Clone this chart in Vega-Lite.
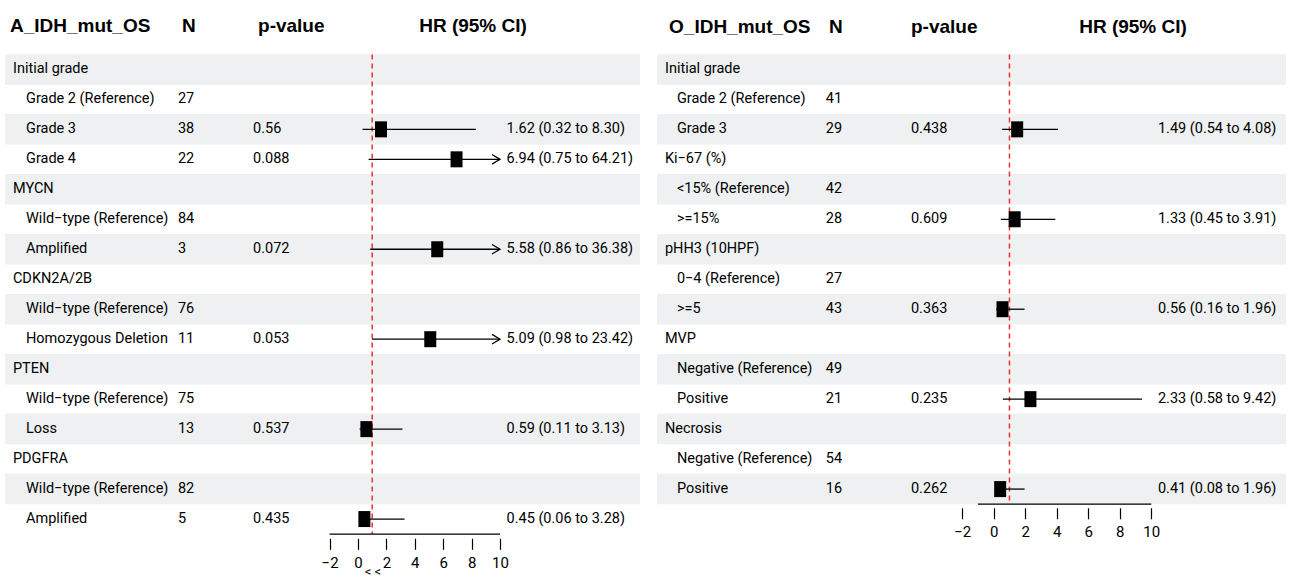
{
  "$schema": "https://vega.github.io/schema/vega-lite/v6.json",
  "width": 1292,
  "height": 585,
  "autosize": {"type": "fit", "contains": "padding"},
  "padding": 0,
  "background": "white",
  "config": {
    "view": {"stroke": null},
    "text": {"font": "Roboto", "fontSize": 14.5, "color": "black"},
    "axis": {"labelFont": "Roboto", "labelFontSize": 15, "labelColor": "black", "tickColor": "black", "tickWidth": 1.2, "tickSize": 11, "labelPadding": 6, "grid": false, "domain": false}
  },
  "datasets": {
    "left": [
      {"row": 1, "level": 0, "label": "Initial grade"},
      {"row": 2, "level": 1, "label": "Grade 2 (Reference)", "n": 27},
      {"row": 3, "level": 1, "label": "Grade 3", "n": 38, "p": "0.56", "hr": 1.62, "lo": 0.32, "hi": 8.30, "ci": "1.62 (0.32 to 8.30)"},
      {"row": 4, "level": 1, "label": "Grade 4", "n": 22, "p": "0.088", "hr": 6.94, "lo": 0.75, "hi": 64.21, "ci": "6.94 (0.75 to 64.21)"},
      {"row": 5, "level": 0, "label": "MYCN"},
      {"row": 6, "level": 1, "label": "Wild−type (Reference)", "n": 84},
      {"row": 7, "level": 1, "label": "Amplified", "n": 3, "p": "0.072", "hr": 5.58, "lo": 0.86, "hi": 36.38, "ci": "5.58 (0.86 to 36.38)"},
      {"row": 8, "level": 0, "label": "CDKN2A/2B"},
      {"row": 9, "level": 1, "label": "Wild−type (Reference)", "n": 76},
      {"row": 10, "level": 1, "label": "Homozygous Deletion", "n": 11, "p": "0.053", "hr": 5.09, "lo": 0.98, "hi": 23.42, "ci": "5.09 (0.98 to 23.42)"},
      {"row": 11, "level": 0, "label": "PTEN"},
      {"row": 12, "level": 1, "label": "Wild−type (Reference)", "n": 75},
      {"row": 13, "level": 1, "label": "Loss", "n": 13, "p": "0.537", "hr": 0.59, "lo": 0.11, "hi": 3.13, "ci": "0.59 (0.11 to 3.13)"},
      {"row": 14, "level": 0, "label": "PDGFRA"},
      {"row": 15, "level": 1, "label": "Wild−type (Reference)", "n": 82},
      {"row": 16, "level": 1, "label": "Amplified", "n": 5, "p": "0.435", "hr": 0.45, "lo": 0.06, "hi": 3.28, "ci": "0.45 (0.06 to 3.28)"}
    ],
    "right": [
      {"row": 1, "level": 0, "label": "Initial grade"},
      {"row": 2, "level": 1, "label": "Grade 2 (Reference)", "n": 41},
      {"row": 3, "level": 1, "label": "Grade 3", "n": 29, "p": "0.438", "hr": 1.49, "lo": 0.54, "hi": 4.08, "ci": "1.49 (0.54 to 4.08)"},
      {"row": 4, "level": 0, "label": "Ki−67 (%)"},
      {"row": 5, "level": 1, "label": "<15% (Reference)", "n": 42},
      {"row": 6, "level": 1, "label": ">=15%", "n": 28, "p": "0.609", "hr": 1.33, "lo": 0.45, "hi": 3.91, "ci": "1.33 (0.45 to 3.91)"},
      {"row": 7, "level": 0, "label": "pHH3 (10HPF)"},
      {"row": 8, "level": 1, "label": "0−4 (Reference)", "n": 27},
      {"row": 9, "level": 1, "label": ">=5", "n": 43, "p": "0.363", "hr": 0.56, "lo": 0.16, "hi": 1.96, "ci": "0.56 (0.16 to 1.96)"},
      {"row": 10, "level": 0, "label": "MVP"},
      {"row": 11, "level": 1, "label": "Negative (Reference)", "n": 49},
      {"row": 12, "level": 1, "label": "Positive", "n": 21, "p": "0.235", "hr": 2.33, "lo": 0.58, "hi": 9.42, "ci": "2.33 (0.58 to 9.42)"},
      {"row": 13, "level": 0, "label": "Necrosis"},
      {"row": 14, "level": 1, "label": "Negative (Reference)", "n": 54},
      {"row": 15, "level": 1, "label": "Positive", "n": 16, "p": "0.262", "hr": 0.41, "lo": 0.08, "hi": 1.96, "ci": "0.41 (0.08 to 1.96)"}
    ]
  },
  "resolve": {"scale": {"x": "independent"}, "axis": {"x": "independent"}},
  "layer": [
    {
      "data": {"name": "left"},
      "layer": [
        {
          "transform": [{"filter": "datum.row % 2 == 1"}],
          "mark": {"type": "bar", "color": "#eef0f1"},
          "encoding": {
            "x": {"datum": -24.86, "type": "quantitative", "title": null,
                  "scale": {"domain": [-25.211, 65.775], "nice": false, "zero": false},
                  "axis": {"values": [-2, 0, 2, 4, 6, 8, 10], "title": null, "orient": "bottom", "offset": -46.7}},
            "x2": {"datum": 19.86},
            "y": {"field": "row", "type": "quantitative", "axis": null,
                  "scale": {"domain": [-1.148, 18.033], "reverse": true, "nice": false, "zero": false}},
            "size": {"value": 30.5}
          }
        },
        {
          "data": {"values": [{"ref": 1}]},
          "mark": {"type": "rule", "color": "#f0302c", "strokeDash": [5, 4], "strokeWidth": 1.5},
          "encoding": {
            "x": {"field": "ref", "type": "quantitative", "title": null},
            "y": {"datum": 0.5, "type": "quantitative"},
            "y2": {"datum": 16.5}
          }
        },
        {
          "data": {"values": [{"a": -2, "b": 10}]},
          "mark": {"type": "rule", "color": "black", "strokeWidth": 1.2},
          "encoding": {
            "x": {"field": "a", "type": "quantitative", "title": null},
            "x2": {"field": "b"},
            "y": {"datum": 16.5, "type": "quantitative"}
          }
        },
        {
          "transform": [{"filter": "isValid(datum.hi) && datum.hi <= 10"}],
          "mark": {"type": "rule", "color": "black", "strokeWidth": 1.3},
          "encoding": {
            "x": {"field": "lo", "type": "quantitative", "title": null},
            "x2": {"field": "hi"},
            "y": {"field": "row", "type": "quantitative"}
          }
        },
        {
          "transform": [{"filter": "isValid(datum.hi) && datum.hi > 10"}],
          "mark": {"type": "rule", "color": "black", "strokeWidth": 1.3},
          "encoding": {
            "x": {"field": "lo", "type": "quantitative", "title": null},
            "x2": {"datum": 10},
            "y": {"field": "row", "type": "quantitative"}
          }
        },
        {
          "transform": [{"filter": "isValid(datum.hi) && datum.hi > 10"}],
          "mark": {"type": "point", "shape": "M-1,-0.6L0,0L-1,0.6", "filled": false, "color": "black", "strokeWidth": 1.3, "size": 256, "opacity": 1},
          "encoding": {
            "x": {"datum": 10, "type": "quantitative", "title": null},
            "y": {"field": "row", "type": "quantitative"}
          }
        },
        {
          "transform": [{"filter": "isValid(datum.hr)"}],
          "mark": {"type": "point", "shape": "M-0.75,-1H0.75V1H-0.75Z", "filled": true, "color": "black", "size": 256, "opacity": 1},
          "encoding": {
            "x": {"field": "hr", "type": "quantitative", "title": null},
            "y": {"field": "row", "type": "quantitative"}
          }
        },
        {
          "transform": [{"filter": "datum.level == 0"}],
          "mark": {"type": "text", "align": "left", "baseline": "middle"},
          "encoding": {
            "x": {"datum": -24.3, "type": "quantitative", "title": null},
            "y": {"field": "row", "type": "quantitative"},
            "text": {"field": "label"}
          }
        },
        {
          "transform": [{"filter": "datum.level == 1"}],
          "mark": {"type": "text", "align": "left", "baseline": "middle"},
          "encoding": {
            "x": {"datum": -23.38, "type": "quantitative", "title": null},
            "y": {"field": "row", "type": "quantitative"},
            "text": {"field": "label"}
          }
        },
        {
          "transform": [{"filter": "isValid(datum.n)"}],
          "mark": {"type": "text", "align": "left", "baseline": "middle"},
          "encoding": {
            "x": {"datum": -12.68, "type": "quantitative", "title": null},
            "y": {"field": "row", "type": "quantitative"},
            "text": {"field": "n"}
          }
        },
        {
          "transform": [{"filter": "isValid(datum.p)"}],
          "mark": {"type": "text", "align": "left", "baseline": "middle"},
          "encoding": {
            "x": {"datum": -7.39, "type": "quantitative", "title": null},
            "y": {"field": "row", "type": "quantitative"},
            "text": {"field": "p"}
          }
        },
        {
          "transform": [{"filter": "isValid(datum.ci)"}],
          "mark": {"type": "text", "align": "left", "baseline": "middle"},
          "encoding": {
            "x": {"datum": 10.46, "type": "quantitative", "title": null},
            "y": {"field": "row", "type": "quantitative"},
            "text": {"field": "ci"}
          }
        },
        {
          "data": {"values": [{"t": "A_IDH_mut_OS"}]},
          "mark": {"type": "text", "align": "left", "baseline": "middle", "font": "Liberation Sans", "fontWeight": "bold", "fontSize": 19},
          "encoding": {"x": {"datum": -24.51, "type": "quantitative", "title": null}, "y": {"datum": -0.46, "type": "quantitative"}, "text": {"field": "t"}}
        },
        {
          "data": {"values": [{"t": "N"}]},
          "mark": {"type": "text", "align": "left", "baseline": "middle", "font": "Liberation Sans", "fontWeight": "bold", "fontSize": 19},
          "encoding": {"x": {"datum": -12.39, "type": "quantitative", "title": null}, "y": {"datum": -0.46, "type": "quantitative"}, "text": {"field": "t"}}
        },
        {
          "data": {"values": [{"t": "p-value"}]},
          "mark": {"type": "text", "align": "left", "baseline": "middle", "font": "Liberation Sans", "fontWeight": "bold", "fontSize": 19},
          "encoding": {"x": {"datum": -7.04, "type": "quantitative", "title": null}, "y": {"datum": -0.46, "type": "quantitative"}, "text": {"field": "t"}}
        },
        {
          "data": {"values": [{"t": "HR (95% CI)"}]},
          "mark": {"type": "text", "align": "center", "baseline": "middle", "font": "Liberation Sans", "fontWeight": "bold", "fontSize": 19},
          "encoding": {"x": {"datum": 8.1, "type": "quantitative", "title": null}, "y": {"datum": -0.46, "type": "quantitative"}, "text": {"field": "t"}}
        },
        {
          "data": {"values": [{"t": "< <"}]},
          "mark": {"type": "text", "align": "center", "baseline": "middle", "fontSize": 13},
          "encoding": {"x": {"datum": 1.05, "type": "quantitative", "title": null}, "y": {"datum": 17.75, "type": "quantitative"}, "text": {"field": "t"}}
        }
      ]
    },
    {
      "data": {"name": "right"},
      "layer": [
        {
          "transform": [{"filter": "datum.row % 2 == 1"}],
          "mark": {"type": "bar", "color": "#eef0f1"},
          "encoding": {
            "x": {"datum": -21.36, "type": "quantitative", "title": null,
                  "scale": {"domain": [-63.052, 18.928], "nice": false, "zero": false},
                  "axis": {"values": [-2, 0, 2, 4, 6, 8, 10], "title": null, "orient": "bottom", "offset": -77.2}},
            "x2": {"datum": 18.55},
            "y": {"field": "row", "type": "quantitative", "axis": null},
            "size": {"value": 30.5}
          }
        },
        {
          "data": {"values": [{"ref": 1}]},
          "mark": {"type": "rule", "color": "#f0302c", "strokeDash": [5, 4], "strokeWidth": 1.5},
          "encoding": {
            "x": {"field": "ref", "type": "quantitative", "title": null},
            "y": {"datum": 0.5, "type": "quantitative"},
            "y2": {"datum": 15.5}
          }
        },
        {
          "data": {"values": [{"a": -1, "b": 10}]},
          "mark": {"type": "rule", "color": "black", "strokeWidth": 1.2},
          "encoding": {
            "x": {"field": "a", "type": "quantitative", "title": null},
            "x2": {"field": "b"},
            "y": {"datum": 15.5, "type": "quantitative"}
          }
        },
        {
          "transform": [{"filter": "isValid(datum.hi) && datum.hi <= 10"}],
          "mark": {"type": "rule", "color": "black", "strokeWidth": 1.3},
          "encoding": {
            "x": {"field": "lo", "type": "quantitative", "title": null},
            "x2": {"field": "hi"},
            "y": {"field": "row", "type": "quantitative"}
          }
        },
        {
          "transform": [{"filter": "isValid(datum.hr)"}],
          "mark": {"type": "point", "shape": "M-0.75,-1H0.75V1H-0.75Z", "filled": true, "color": "black", "size": 256, "opacity": 1},
          "encoding": {
            "x": {"field": "hr", "type": "quantitative", "title": null},
            "y": {"field": "row", "type": "quantitative"}
          }
        },
        {
          "transform": [{"filter": "datum.level == 0"}],
          "mark": {"type": "text", "align": "left", "baseline": "middle"},
          "encoding": {
            "x": {"datum": -20.86, "type": "quantitative", "title": null},
            "y": {"field": "row", "type": "quantitative"},
            "text": {"field": "label"}
          }
        },
        {
          "transform": [{"filter": "datum.level == 1"}],
          "mark": {"type": "text", "align": "left", "baseline": "middle"},
          "encoding": {
            "x": {"datum": -20.1, "type": "quantitative", "title": null},
            "y": {"field": "row", "type": "quantitative"},
            "text": {"field": "label"}
          }
        },
        {
          "transform": [{"filter": "isValid(datum.n)"}],
          "mark": {"type": "text", "align": "left", "baseline": "middle"},
          "encoding": {
            "x": {"datum": -10.65, "type": "quantitative", "title": null},
            "y": {"field": "row", "type": "quantitative"},
            "text": {"field": "n"}
          }
        },
        {
          "transform": [{"filter": "isValid(datum.p)"}],
          "mark": {"type": "text", "align": "left", "baseline": "middle"},
          "encoding": {
            "x": {"datum": -5.25, "type": "quantitative", "title": null},
            "y": {"field": "row", "type": "quantitative"},
            "text": {"field": "p"}
          }
        },
        {
          "transform": [{"filter": "isValid(datum.ci)"}],
          "mark": {"type": "text", "align": "left", "baseline": "middle"},
          "encoding": {
            "x": {"datum": 10.42, "type": "quantitative", "title": null},
            "y": {"field": "row", "type": "quantitative"},
            "text": {"field": "ci"}
          }
        },
        {
          "data": {"values": [{"t": "O_IDH_mut_OS"}]},
          "mark": {"type": "text", "align": "left", "baseline": "middle", "font": "Liberation Sans", "fontWeight": "bold", "fontSize": 19},
          "encoding": {"x": {"datum": -20.6, "type": "quantitative", "title": null}, "y": {"datum": -0.42, "type": "quantitative"}, "text": {"field": "t"}}
        },
        {
          "data": {"values": [{"t": "N"}]},
          "mark": {"type": "text", "align": "left", "baseline": "middle", "font": "Liberation Sans", "fontWeight": "bold", "fontSize": 19},
          "encoding": {"x": {"datum": -10.45, "type": "quantitative", "title": null}, "y": {"datum": -0.42, "type": "quantitative"}, "text": {"field": "t"}}
        },
        {
          "data": {"values": [{"t": "p-value"}]},
          "mark": {"type": "text", "align": "left", "baseline": "middle", "font": "Liberation Sans", "fontWeight": "bold", "fontSize": 19},
          "encoding": {"x": {"datum": -5.25, "type": "quantitative", "title": null}, "y": {"datum": -0.42, "type": "quantitative"}, "text": {"field": "t"}}
        },
        {
          "data": {"values": [{"t": "HR (95% CI)"}]},
          "mark": {"type": "text", "align": "center", "baseline": "middle", "font": "Liberation Sans", "fontWeight": "bold", "fontSize": 19},
          "encoding": {"x": {"datum": 8.84, "type": "quantitative", "title": null}, "y": {"datum": -0.42, "type": "quantitative"}, "text": {"field": "t"}}
        }
      ]
    }
  ]
}
